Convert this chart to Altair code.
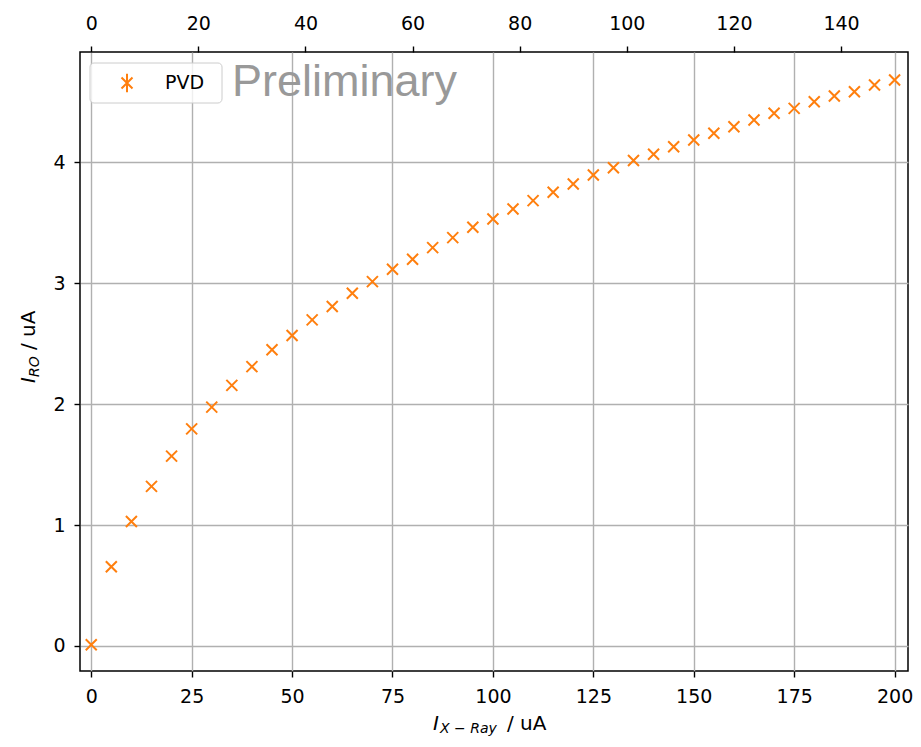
import altair as alt
import pandas as pd

# ---- data ----
x_current = [0, 5, 10, 15, 20, 25, 30, 35, 40, 45, 50, 55, 60, 65, 70, 75, 80, 85, 90, 95,
             100, 105, 110, 115, 120, 125, 130, 135, 140, 145, 150, 155, 160, 165, 170, 175,
             180, 185, 190, 195, 200]
y_ro = [0.01, 0.655, 1.03, 1.32, 1.57, 1.795, 1.975, 2.155, 2.31, 2.45, 2.567, 2.697, 2.807,
        2.917, 3.013, 3.115, 3.198, 3.294, 3.377, 3.463, 3.531, 3.614, 3.683, 3.752, 3.821,
        3.895, 3.955, 4.015, 4.066, 4.129, 4.184, 4.240, 4.294, 4.350, 4.405, 4.446, 4.501,
        4.548, 4.583, 4.639, 4.680]
series_name = ["PVD"]
bottom_ticks = [0, 25, 50, 75, 100, 125, 150, 175, 200]
top_ticks = [0, 20, 40, 60, 80, 100, 120, 140]
y_ticks = [0, 1, 2, 3, 4]
watermark = ["Preliminary"]

TOP_FACTOR = 0.75
X_DOMAIN = [-2.8, 203.34]
Y_DOMAIN = [-0.207, 4.912]
ORANGE = "#ff7f0e"
X_PATH = "M-1,-1L1,1M-1,1L1,-1"
LEG_PATH = "M-1,-1L1,1M-1,1L1,-1M0,-1.7L0,1.7"
FONT = "DejaVu Sans"

df = pd.DataFrame({"x": x_current, "y": y_ro})
df["series"] = series_name[0]
df["x_top"] = df["x"] * TOP_FACTOR

points = alt.Chart(df).mark_point(
    shape=X_PATH, filled=False, size=121, strokeWidth=2, color=ORANGE, opacity=1
).encode(
    x=alt.X("x:Q", scale=alt.Scale(domain=X_DOMAIN, nice=False, zero=False),
            axis=alt.Axis(values=bottom_ticks, title=None, grid=True, labelPadding=10,
                          labelFlush=False)),
    y=alt.Y("y:Q", scale=alt.Scale(domain=Y_DOMAIN, nice=False, zero=False),
            axis=alt.Axis(values=y_ticks, title=None, grid=True, labelPadding=9,
                          labelFlush=False)),
)

top_axis = alt.Chart(df).mark_point(opacity=0).encode(
    x=alt.X("x_top:Q",
            scale=alt.Scale(domain=[d * TOP_FACTOR for d in X_DOMAIN], nice=False, zero=False),
            axis=alt.Axis(orient="top", values=top_ticks, title=None, grid=False,
                          labelPadding=13, labelFlush=False)),
    y=alt.Y("y:Q", scale=alt.Scale(domain=Y_DOMAIN, nice=False, zero=False), axis=None),
)

# legend box
leg_box = alt.Chart(pd.DataFrame({"s": series_name})).mark_rect(
    fill="white", fillOpacity=0.8, stroke="#cccccc", strokeWidth=1, cornerRadius=4
).encode(x=alt.value(10), x2=alt.value(142), y=alt.value(11), y2=alt.value(51))

leg_sym = alt.Chart(pd.DataFrame({"s": series_name})).mark_point(
    shape=LEG_PATH, filled=False, size=121, strokeWidth=2, color=ORANGE, opacity=1
).encode(x=alt.value(47), y=alt.value(31))

leg_txt = alt.Chart(pd.DataFrame({"s": series_name})).mark_text(
    align="left", baseline="middle", font=FONT, fontSize=19, color="black"
).encode(x=alt.value(85), y=alt.value(31), text="s:N")

prelim = alt.Chart(pd.DataFrame({"t": watermark})).mark_text(
    align="left", baseline="alphabetic", font="Liberation Sans", fontSize=45, color="#999999"
).encode(x=alt.value(152), y=alt.value(44), text="t:N")

# x title: I_{X-Ray} / uA
XT_Y = 678
xt_main = alt.Chart(pd.DataFrame({"t": ["I"]})).mark_text(
    align="left", baseline="alphabetic", font=FONT, fontSize=20, fontStyle="italic", color="black"
).encode(x=alt.value(353), y=alt.value(XT_Y), text="t:N")
xt_sub = alt.Chart(pd.DataFrame({"t": ["X − Ray"]})).mark_text(
    align="left", baseline="alphabetic", font=FONT, fontSize=14, fontStyle="italic", color="black"
).encode(x=alt.value(360), y=alt.value(XT_Y + 3), text="t:N")
xt_unit = alt.Chart(pd.DataFrame({"t": ["/ uA"]})).mark_text(
    align="left", baseline="alphabetic", font=FONT, fontSize=20, color="black"
).encode(x=alt.value(427), y=alt.value(XT_Y), text="t:N")

# y title: I_{RO} / uA (rotated)
yt_main = alt.Chart(pd.DataFrame({"t": ["I"]})).mark_text(
    align="left", baseline="alphabetic", font=FONT, fontSize=20, fontStyle="italic",
    color="black", angle=270
).encode(x=alt.value(-45), y=alt.value(331), text="t:N")
yt_sub = alt.Chart(pd.DataFrame({"t": ["RO"]})).mark_text(
    align="left", baseline="alphabetic", font=FONT, fontSize=14, fontStyle="italic",
    color="black", angle=270
).encode(x=alt.value(-41), y=alt.value(325), text="t:N")
yt_unit = alt.Chart(pd.DataFrame({"t": ["/ uA"]})).mark_text(
    align="left", baseline="alphabetic", font=FONT, fontSize=20, color="black", angle=270
).encode(x=alt.value(-45), y=alt.value(298), text="t:N")

chart = alt.layer(
    points, top_axis, leg_box, leg_sym, leg_txt, prelim,
    xt_main, xt_sub, xt_unit, yt_main, yt_sub, yt_unit
).resolve_scale(
    x="independent", y="independent"
).properties(
    width=828, height=619,
    autosize=alt.AutoSizeParams(type="none"),
    padding={"left": 72, "top": 44, "right": 5, "bottom": 65},
).configure_axis(
    labelFont=FONT, labelFontSize=19, labelColor="black",
    tickColor="black", tickSize=6, tickWidth=1.4, domain=False,
    gridColor="#b0b0b0", gridWidth=1.4,
).configure_view(
    stroke="black", strokeWidth=1.5
)

chart.save("out.html", embed_options={"renderer": "svg", "actions": False})
